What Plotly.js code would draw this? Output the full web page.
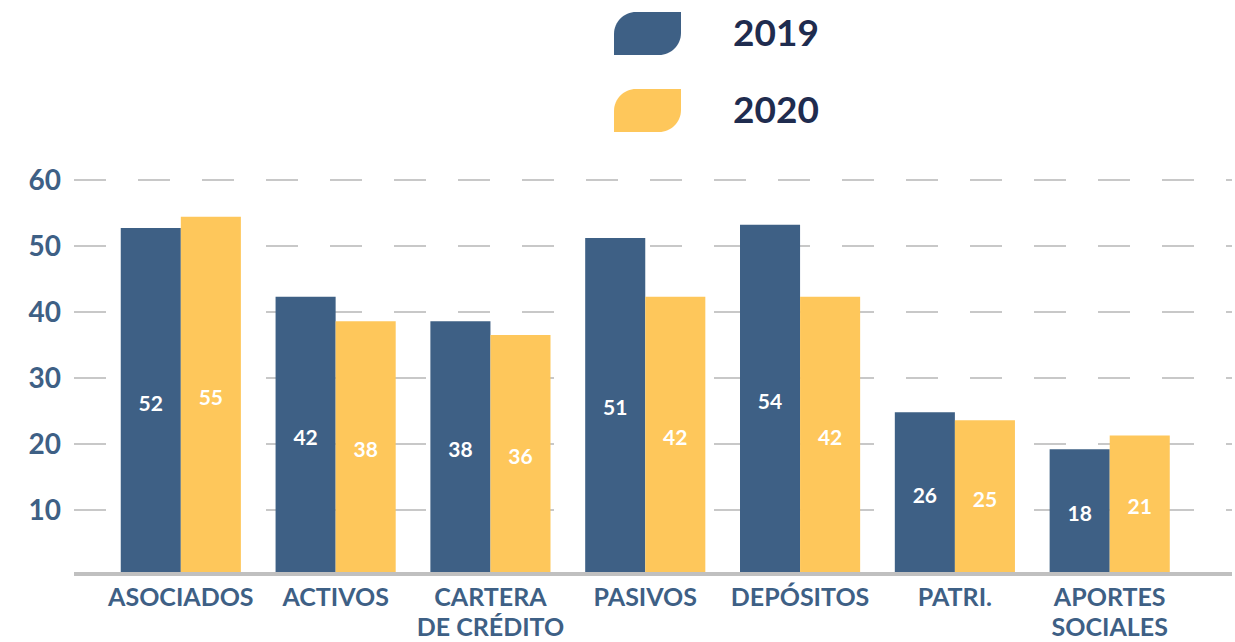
<!DOCTYPE html>
<html>
<head>
<meta charset="utf-8">
<script src="https://cdn.plot.ly/plotly-3.0.1.min.js"></script>
<style>
  html, body { margin: 0; padding: 0; background: #ffffff; }
  #chart { width: 1235px; height: 642px; }
</style>
</head>
<body>
<div id="chart"></div>
<script>
// ---- data ----
const categories = ["ASOCIADOS", "ACTIVOS", "CARTERA<br>DE CRÉDITO", "PASIVOS", "DEPÓSITOS", "PATRI.", "APORTES<br>SOCIALES"];
const seriesNames = ["2019", "2020"];
const values2019 = [52.7, 42.3, 38.6, 51.2, 53.2, 24.8, 19.2];
const values2020 = [54.4, 38.6, 36.5, 42.3, 42.3, 23.6, 21.3];
const labels2019 = ["52", "42", "38", "51", "54", "26", "18"];
const labels2020 = ["55", "38", "36", "42", "42", "25", "21"];
const yTickVals = [10, 20, 30, 40, 50, 60];

// ---- styles ----
const BLUE = "#3e6085";
const YELLOW = "#fec75b";
const AXIS_TEXT = "#3e6085";
const LEGEND_TEXT = "#1f2c4f";
const FONT = "Lato, 'Open Sans', sans-serif";

const W = 1235, H = 642;
const M = {l: 74, r: 3, t: 168, b: 66};
const PW = W - M.l - M.r, PH = H - M.t - M.b;
const px = x => (x - M.l) / PW;
const py = y => (H - M.b - y) / PH;

function leafPath(x0, y0, x1, y1, r) {
  const k = 0.5523 * r;
  const P = (x, y) => px(x).toFixed(5) + "," + py(y).toFixed(5);
  return "M" + P(x0, y1) +
    " L" + P(x0, y0 + r) +
    " C" + P(x0, y0 + r - k) + " " + P(x0 + r - k, y0) + " " + P(x0 + r, y0) +
    " L" + P(x1, y0) +
    " L" + P(x1, y1 - r) +
    " C" + P(x1, y1 - r + k) + " " + P(x1 - r + k, y1) + " " + P(x1 - r, y1) +
    " Z";
}

// tick labels: glyph size set inside, line spacing from the tick font size
const tickText = categories.map(c =>
  c.split("<br>").map(s => '<span style="font-size:25px">' + s + '</span>').join("<br>"));

const common = {
  type: "bar",
  x: categories,
  textposition: "inside",
  insidetextanchor: "middle",
  textangle: 0,
  constraintext: "none",
  textfont: {family: FONT, size: 21, color: "#ffffff", weight: 700},
  hoverinfo: "x+y+name",
  showlegend: false
};

const traces = [
  Object.assign({}, common, {name: seriesNames[0], y: values2019, text: labels2019, marker: {color: BLUE}}),
  Object.assign({}, common, {name: seriesNames[1], y: values2020, text: labels2020, marker: {color: YELLOW}})
];

const layout = {
  width: W, height: H,
  margin: M,
  paper_bgcolor: "#ffffff",
  plot_bgcolor: "#ffffff",
  barmode: "group",
  bargap: 0.224,
  bargroupgap: 0,
  font: {family: FONT},
  xaxis: {
    range: [-0.69, 6.79],
    tickmode: "array",
    tickvals: categories,
    ticktext: tickText,
    showgrid: false,
    zeroline: false,
    showline: false,
    ticks: "",
    ticklabelstandoff: 6,
    tickfont: {family: FONT, size: 23, color: AXIS_TEXT, weight: 700},
    fixedrange: true
  },
  yaxis: {
    range: [0, 61.8],
    tickvals: yTickVals,
    showgrid: true,
    gridcolor: "#c8c8c8",
    gridwidth: 2,
    griddash: "32px,32px",
    zeroline: false,
    showline: false,
    ticks: "",
    ticklabelstandoff: 12,
    tickfont: {family: FONT, size: 28, color: AXIS_TEXT, weight: 700},
    fixedrange: true
  },
  shapes: [
    {type: "line", xref: "paper", yref: "y", x0: 0, x1: 1, y0: 0, y1: 0,
     line: {color: "#c0c0c0", width: 8}, layer: "above"},
    {type: "path", xref: "paper", yref: "paper", path: leafPath(614, 12, 681, 55, 22),
     fillcolor: BLUE, line: {width: 0}},
    {type: "path", xref: "paper", yref: "paper", path: leafPath(614, 89, 681, 132, 22),
     fillcolor: YELLOW, line: {width: 0}}
  ],
  annotations: [
    {xref: "paper", yref: "paper", x: px(731), y: py(31), xanchor: "left", yanchor: "middle",
     text: seriesNames[0], showarrow: false, font: {family: FONT, size: 37, color: LEGEND_TEXT, weight: 700}},
    {xref: "paper", yref: "paper", x: px(731), y: py(108), xanchor: "left", yanchor: "middle",
     text: seriesNames[1], showarrow: false, font: {family: FONT, size: 37, color: LEGEND_TEXT, weight: 700}}
  ]
};

Plotly.newPlot("chart", traces, layout, {displayModeBar: false, staticPlot: false, responsive: false});
</script>
</body>
</html>
